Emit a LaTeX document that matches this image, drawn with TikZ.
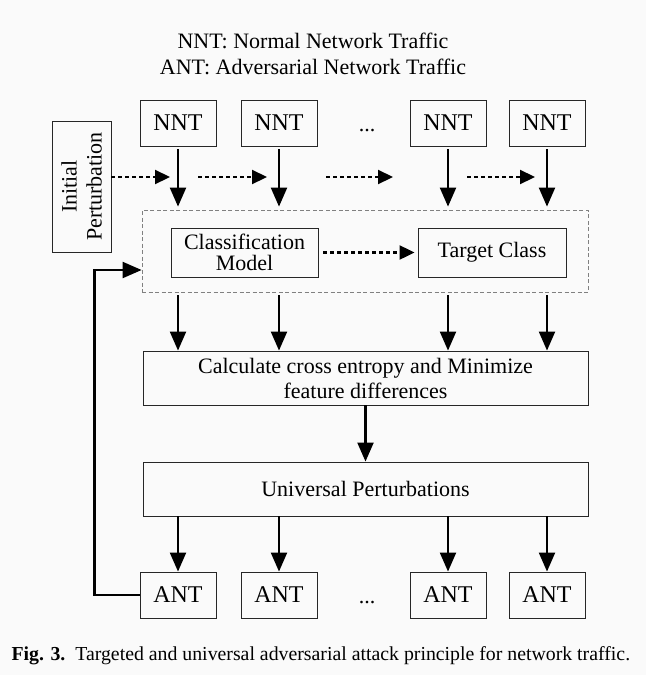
\documentclass[tikz,border=0pt]{standalone}
\usepackage{fontspec}
\setmainfont{Liberation Serif}
\usetikzlibrary{arrows.meta,positioning}
\definecolor{bggray}{RGB}{250,250,250}
\tikzset{
    plain-box/.style = {draw=black!85, line width=0.9pt, rectangle, inner sep=2pt, align=center},
    traffic-box/.style = {plain-box, minimum width=76pt, minimum height=46pt, font=\fontsize{24}{26}\selectfont},
    wide-box/.style = {plain-box, minimum width=445pt, minimum height=54pt},
    model-box/.style = {plain-box, minimum width=147pt, minimum height=49pt, font=\fontsize{22}{21}\selectfont},
    area-box/.style = {draw=black!50, line width=0.8pt, dash pattern=on 4pt off 2.5pt, rectangle, minimum width=446pt, minimum height=82pt},
    flow/.style = {line width=2.2pt, -{Triangle[length=19pt,width=16pt]}},
    dash-flow/.style = {line width=2.2pt, dash pattern=on 4pt off 3pt, -{Triangle[length=15pt,width=14pt]}},
}

\begin{document}
\begin{tikzpicture}[x=1pt, y=-1pt, font=\fontsize{22}{25}\selectfont]
\useasboundingbox[fill=bggray] (0,0) rectangle (646,675);

% legend
\node[anchor=base] (legend-nnt) at (313,48) {NNT: Normal Network Traffic};
\node[anchor=base] (legend-ant) at (313,74) {ANT: Adversarial Network Traffic};

% traffic rows
\foreach \i/\x in {1/178,2/279,3/448,4/547}{
    \node[traffic-box] (nnt\i) at (\x,123) {NNT};
    \node[traffic-box] (ant\i) at (\x,595) {ANT};
}
\node[anchor=base] (dots-nnt) at (367,131) {...};
\node[anchor=base] (dots-ant) at (367,603) {...};

% initial perturbation
\node[plain-box, rotate=90, minimum width=131pt, minimum height=59pt] (init) at (81.5,186.5) {Initial\\Perturbation};

% model area
\node[area-box] (model-area) at (365,251) {};
\node[model-box] (classifier) at (244.5,252.5) {Classification\\Model};
\node[model-box, minimum width=148pt] (target) at (492,252.5) {Target Class};

% calculation and universal perturbation
\node[wide-box] (calc) at (365.5,378) {Calculate cross entropy and Minimize\\feature differences};
\node[wide-box] (universal) at (365.5,489) {Universal Perturbations};

% perturbation passed along the row
\coordinate (pert-row) at (0,177);
\coordinate (pert-end1) at (170,177);
\draw[dash-flow] (init.south |- pert-row) -- (pert-end1);
\foreach \i/\a/\b in {2/198/267,3/326/393,4/467/535}{
    \coordinate (pert-start\i) at (\a,177);
    \coordinate (pert-end\i) at (\b,177);
    \draw[dash-flow] (pert-start\i) -- (pert-end\i);
}
\draw[dash-flow, shorten <=5pt, shorten >=3pt] (classifier) -- (target);

% vertical flows
\foreach \i in {1,...,4}{
    \draw[flow, shorten <=3pt, shorten >=3pt] (nnt\i.south) -- (nnt\i.south |- model-area.north);
    \draw[flow, shorten <=3pt] (nnt\i.south |- model-area.south) -- (nnt\i.south |- calc.north);
    \draw[flow] (universal.south -| ant\i.north) -- (ant\i.north);
}
\draw[flow] (calc) -- (universal);

% feedback loop
\coordinate (loop-in) at (0,270);
\draw[flow] (ant1.west) -- ++(-45,0) |- (model-area.west |- loop-in);

% caption
\node[anchor=base west, font=\fontsize{19.8}{22}\selectfont] (caption) at (8,660) {\textbf{Fig. 3.}\enspace Targeted and universal adversarial attack principle for network traffic.};
\end{tikzpicture}
\end{document}
